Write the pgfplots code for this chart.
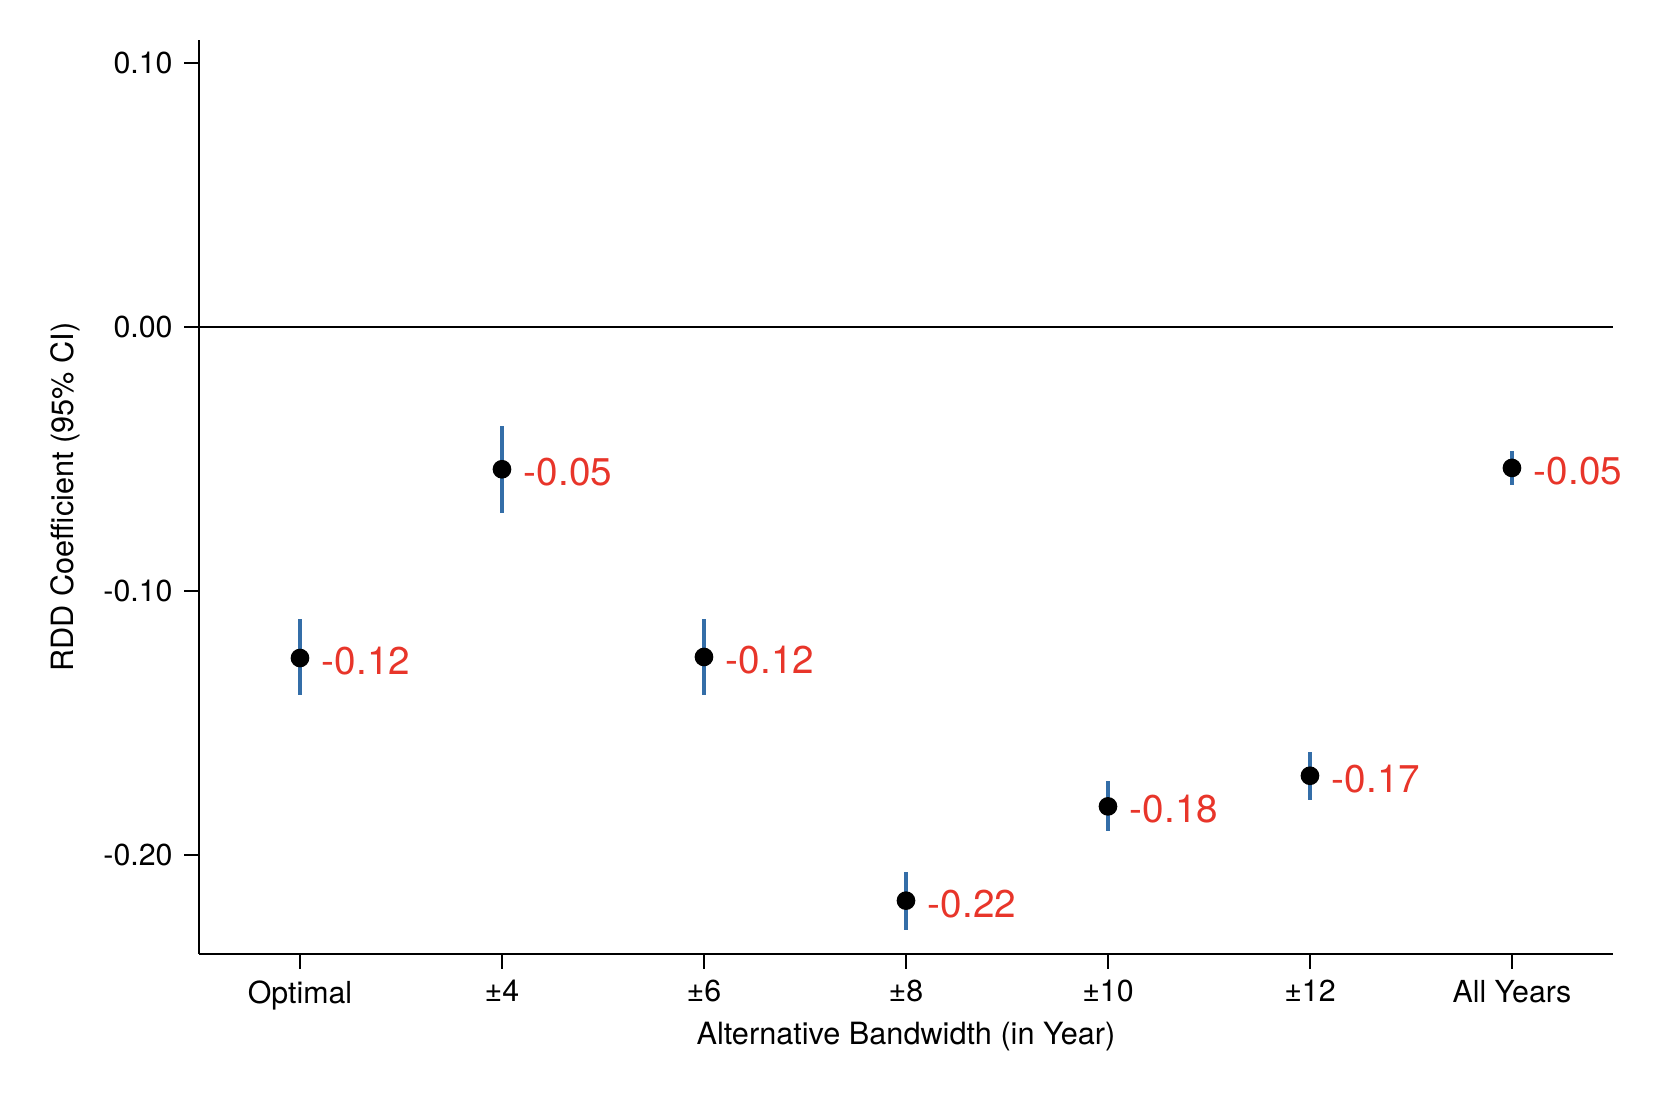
\documentclass[border=0pt]{standalone}
\usepackage{fontspec}
\setmainfont{TeX Gyre Heros}
\usepackage{pgfplots}
\usepackage{pgfplotstable}
\pgfplotsset{compat=1.18}
\definecolor{cired}{RGB}{232,53,42}
\definecolor{ciblue}{RGB}{52,110,168}

\pgfplotstableread{
x y hi lo lab
0 -0.1254 -0.1107 -0.1393 -0.12
1 -0.0539 -0.0375 -0.0703 -0.05
2 -0.1250 -0.1106 -0.1393 -0.12
3 -0.2173 -0.2064 -0.2284 -0.22
4 -0.1816 -0.1720 -0.1910 -0.18
5 -0.1700 -0.1609 -0.1792 -0.17
6 -0.0534 -0.0468 -0.0598 -0.05
}\rdd

\begin{document}
\begin{tikzpicture}
\begin{axis}[
  scale only axis, width=424.2pt, height=274.2pt,
  xmin=-0.5, xmax=6.5, ymin=-0.2375, ymax=0.1087,
  axis x line*=bottom, axis y line*=left,
  axis line style={-, line width=0.6pt},
  tick align=outside, major tick length=4.4pt,
  every tick/.style={black, line width=0.45pt},
  xtick={0,1,2,3,4,5,6},
  xticklabels={Optimal,±4,±6,±8,±10,±12,All Years},
  ytick={-0.2,-0.1,0,0.1},
  yticklabels={-0.20,-0.10,0.00,0.10},
  ticklabel style={font=\fontsize{9.1}{11}\selectfont},
  xlabel={Alternative Bandwidth (in Year)},
  ylabel={RDD Coefficient (95\% CI)},
  label style={font=\fontsize{9.2}{11}\selectfont},
  xlabel style={at={(axis description cs:0.5,-0.0985)}, anchor=base, inner sep=0pt},
  ylabel style={at={(axis description cs:-0.0891,0.5)}, anchor=base, inner sep=0pt},
  clip=false,
]
\addplot[black, line width=0.6pt, forget plot] coordinates {(-0.5,0) (6.5,0)};
\addplot[only marks, mark=none, forget plot,
  error bars/.cd, y dir=both, y explicit, error mark=none,
  error bar style={draw=ciblue, solid, line width=1.1pt}]
  table[x=x, y=y, y error plus expr=\thisrow{hi}-\thisrow{y}, y error minus expr=\thisrow{y}-\thisrow{lo}] {\rdd};
\addplot[only marks, mark=*, mark size=2.6pt, black,
  nodes near coords, point meta=explicit symbolic,
  nodes near coords style={anchor=west, inner sep=0pt, xshift=6.4pt, yshift=-0.9pt,
    text=cired, font=\fontsize{11.6}{13}\selectfont}]
  table[x=x, y=y, meta=lab] {\rdd};
\end{axis}
\pgfresetboundingbox
\path (-59.7pt,-44.4pt) rectangle (436.5pt,286.2pt);
\end{tikzpicture}
\end{document}
